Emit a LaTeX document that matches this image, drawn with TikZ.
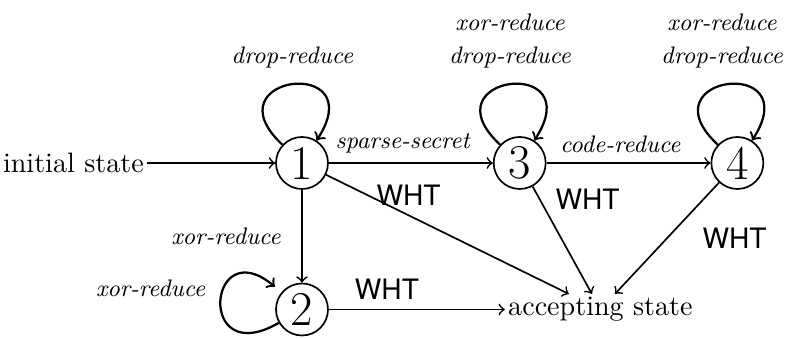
\documentclass[tikz,border=0pt]{standalone}
\usepackage{fontspec}
\newfontfamily\whtfont{TeX Gyre Heros}
\usetikzlibrary{arrows,positioning}
\tikzset{
	stnode/.style={draw, circle, semithick, minimum size=6.5mm, inner sep=1pt, font=\LARGE},
	textnode/.style={inner sep=1pt},
	trans/.style={->, semithick},
	selfloop/.style={->, thick, looseness=7.6},
	act/.style={font=\fontsize{8.5pt}{11.8pt}\selectfont\itshape},
	wht/.style={font=\whtfont}
}

\begin{document}
\begin{tikzpicture}
	\useasboundingbox (-3.775,-2.1875) rectangle (6.0625,2.0375);

	\node[stnode] (state-1) {1};
	\node[stnode, right=2.05cm of state-1] (state-3) {3};
	\node[stnode, right=2.05cm of state-3] (state-4) {4};
	\node[stnode, below=1.16cm of state-1] (state-2) {2};

	\node[textnode, left=1.6cm of state-1] (initial) {initial state};
	\node[textnode, right=2.2cm of state-2] (accepting) {accepting state};

	% transitions between the states
	\draw[trans] (initial) -- (state-1);
	\draw[trans] (state-1) -- node[act, above, pos=0.45] {sparse-secret} (state-3);
	\draw[trans] (state-3) -- node[act, above, pos=0.45] {code-reduce} (state-4);
	\draw[trans] (state-1) -- node[act, left=4pt] {xor-reduce} (state-2);

	% WHT transitions into the accepting state
	\draw[trans] (state-1) -- node[wht, above, pos=0.34] {WHT} (accepting);
	\draw[trans] (state-3) -- node[wht, right=2pt, pos=0.12] {WHT} (accepting);
	\draw[trans] (state-4) -- node[wht, right=9pt, pos=0.5] {WHT} (accepting);
	\draw[trans] (state-2) -- node[wht, above, pos=0.33] {WHT} (accepting);

	% self loops
	\draw[selfloop] (state-1) to[out=137, in=57] node[act, above=2pt] {drop-reduce} (state-1);
	\draw[selfloop] (state-3) to[out=137, in=57] node[act, above=2pt, align=center] {xor-reduce\\drop-reduce} (state-3);
	\draw[selfloop] (state-4) to[out=137, in=57] node[act, above=2pt, align=center, xshift=-2pt] {xor-reduce\\drop-reduce} (state-4);
	\draw[selfloop, shorten >=3pt] (state-2) to[out=210, in=140, looseness=8] node[act, left=2pt, yshift=5pt] {xor-reduce} (state-2);
\end{tikzpicture}
\end{document}
